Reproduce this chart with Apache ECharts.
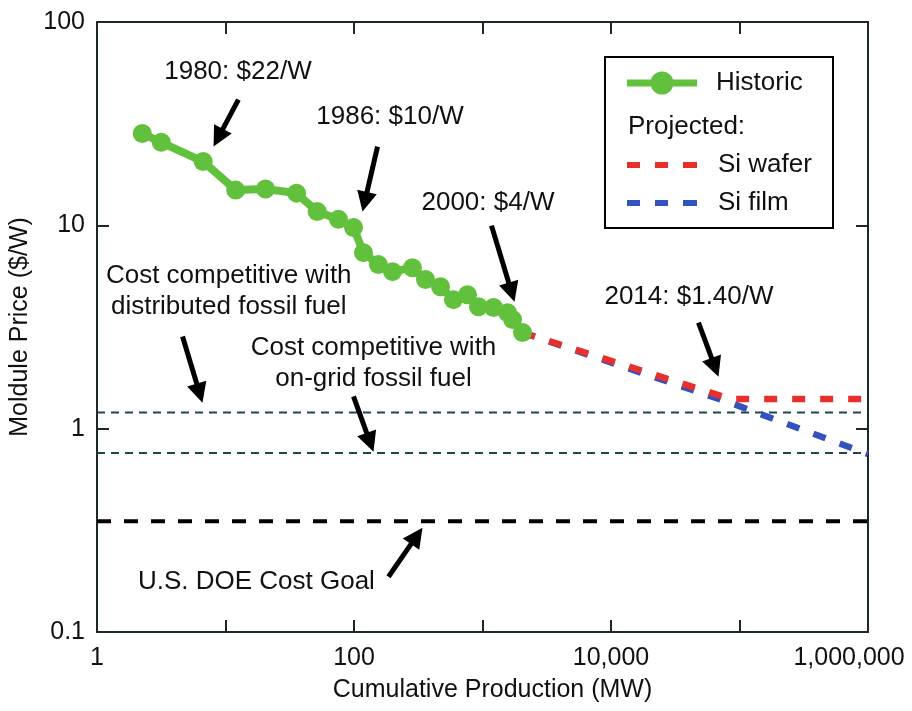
<!DOCTYPE html>
<html><head><meta charset="utf-8">
<script src="https://cdn.jsdelivr.net/npm/echarts/dist/echarts.min.js"></script>
<style>html,body{margin:0;padding:0;background:#fff}#c{width:912px;height:711px}</style>
</head><body><div id="c"></div>
<script>
// ---- data ----
const historicX = [2.25, 3.16, 6.7, 12.0, 20.5, 35.7, 51.7, 75.7, 99.1, 118.5, 155, 199.5, 285, 360, 471, 594, 764, 930, 1218, 1566, 1714, 2048];
const historicY = [28.3, 25.6, 20.6, 14.9, 15.1, 14.4, 11.7, 10.7, 9.75, 7.34, 6.41, 5.92, 6.19, 5.41, 4.99, 4.31, 4.56, 3.98, 3.94, 3.72, 3.44, 2.97];
const waferX = [2048, 85000, 1000000];
const waferY = [2.97, 1.4, 1.4];
const filmX = [2048, 85000, 1000000];
const filmY = [2.97, 1.34, 0.75];
const refRangeX = [1, 1000000];
const distributedLevel = 1.2;
const onGridLevel = 0.76;
const doeGoalLevel = 0.35;
// annotations: text anchor (data coords) and arrows (tail -> tip, data coords)
const annoTexts = [
  {text: '1980: $22/W', at: [12.5, 57.0]},
  {text: '1986: $10/W', at: [190.6, 34.3]},
  {text: '2000: $4/W', at: [1103, 12.9]},
  {text: '2014: $1.40/W', at: [40450, 4.46]},
  {text: 'Cost competitive with\ndistributed fossil fuel', at: [10.6, 4.72]},
  {text: 'Cost competitive with\non-grid fossil fuel', at: [141.8, 2.09]},
  {text: 'U.S. DOE Cost Goal', at: [17.4, 0.177]}
];
const annoArrows = [
  {from: [12.6, 41.5], to: [8.07, 24.4]},
  {from: [152.4, 24.4], to: [116.5, 11.7]},
  {from: [1175, 9.97], to: [1774, 4.21]},
  {from: [47960, 3.32], to: [68700, 1.80]},
  {from: [4.63, 2.84], to: [6.62, 1.34]},
  {from: [99.1, 1.44], to: [141.8, 0.77]},
  {from: [185.5, 0.187], to: [341, 0.326]}
];

const FONT = '"Liberation Sans", Arial, Helvetica, sans-serif';
const GREEN = '#62c13c', RED = '#e8302a', BLUE = '#3352bd', TEAL = '#1f4650', AX = '#1c2828';
const zip = (xs, ys) => xs.map((x, i) => [x, ys[i]]);
const flat = v => refRangeX.map(x => [x, v]);

function fmtX(v) {
  const e = Math.round(Math.log10(v));
  if (e % 2 !== 0) return '';
  const s = String(Math.round(v)).replace(/\B(?=(\d{3})+(?!\d))/g, ',');
  return e === 6 ? '{last|' + s + '}' : s;
}
function fmtY(v) { return v < 1 ? v.toFixed(1) : String(Math.round(v)); }

// legend icons (shape only; colour comes from the series)
const ICON_HISTORIC = 'path://M0,8h24v7h-24z M46,8h24v7h-24z M46.5,11.5A11.5,11.5 0 1 1 23.5,11.5A11.5,11.5 0 1 1 46.5,11.5Z';
const ICON_DASH = 'path://M0,0h13v6h-13z M28,0h13v6h-13z M56,0h14v6h-14z';

const chart = echarts.init(document.getElementById('c'), null, {renderer: 'canvas'});
const axisCommon = {
  type: 'log', logBase: 10,
  axisLine: {show: true, lineStyle: {color: AX, width: 2}},
  axisTick: {show: true, inside: true, length: 12, lineStyle: {color: AX, width: 2}},
  splitLine: {show: false}, minorTick: {show: false}
};
const legendText = {fontSize: 26, color: '#111', fontFamily: FONT};
chart.setOption({
  animation: false,
  backgroundColor: '#fff',
  textStyle: {fontFamily: FONT},
  grid: {left: 97, right: 44, top: 22, bottom: 79, containLabel: false, outerBoundsMode: 'none'},
  xAxis: [
    Object.assign({}, axisCommon, {
      position: 'bottom', min: 1, max: 1000000,
      name: 'Cumulative Production (MW)', nameLocation: 'middle', nameGap: 46,
      nameTextStyle: {fontSize: 25, color: '#111', fontFamily: FONT, padding: [0, 0, 0, 20]},
      axisLabel: {show: true, margin: 14, fontSize: 25, color: '#111', fontFamily: FONT, formatter: fmtX,
        rich: {last: {fontSize: 25, color: '#111', fontFamily: FONT, padding: [0, 38, 0, 0]}},
        showMinLabel: true, showMaxLabel: true, hideOverlap: false}
    }),
    Object.assign({}, axisCommon, {position: 'top', min: 1, max: 1000000, axisLabel: {show: false}})
  ],
  yAxis: [
    Object.assign({}, axisCommon, {
      position: 'left', min: 0.1, max: 100,
      name: 'Moldule Price ($/W)', nameLocation: 'middle', nameGap: 52,
      nameTextStyle: {fontSize: 25, color: '#111', fontFamily: FONT},
      axisLabel: {show: true, margin: 12, fontSize: 25, color: '#111', fontFamily: FONT, formatter: fmtY,
        showMinLabel: true, showMaxLabel: true, hideOverlap: false}
    }),
    Object.assign({}, axisCommon, {position: 'right', min: 0.1, max: 100, axisLabel: {show: false}})
  ],
  legend: [
    {data: [{name: 'Historic', icon: ICON_HISTORIC}], left: 627, top: 70, padding: 0, orient: 'vertical',
      itemWidth: 70, itemHeight: 26, selectedMode: false, z: 10, symbolKeepAspect: true,
      textStyle: Object.assign({padding: [0, 0, 0, 14]}, legendText)},
    {data: [{name: 'Si wafer', icon: ICON_DASH}, {name: 'Si film', icon: ICON_DASH}], left: 627, top: 152, padding: 0,
      orient: 'vertical', itemGap: 12, itemWidth: 70, itemHeight: 26, selectedMode: false, z: 10, symbolKeepAspect: true,
      textStyle: Object.assign({padding: [0, 0, 0, 16]}, legendText)}
  ],
  series: [
    {name: 'Distributed fossil fuel', type: 'line', data: flat(distributedLevel), symbol: 'none', silent: true, z: 1,
      lineStyle: {color: TEAL, width: 2, type: [8, 6]}},
    {name: 'On-grid fossil fuel', type: 'line', data: flat(onGridLevel), symbol: 'none', silent: true, z: 1,
      lineStyle: {color: TEAL, width: 2, type: [8, 6]}},
    {name: 'U.S. DOE Cost Goal', type: 'line', data: flat(doeGoalLevel), symbol: 'none', silent: true, z: 1,
      lineStyle: {color: '#000', width: 4, type: [14, 13]}},
    {name: 'Si film', type: 'line', data: zip(filmX, filmY), symbol: 'none', z: 2, color: BLUE,
      lineStyle: {color: BLUE, width: 6.5, type: [13, 15]}, itemStyle: {color: BLUE}},
    {name: 'Si wafer', type: 'line', data: zip(waferX, waferY), symbol: 'none', z: 3, color: RED,
      lineStyle: {color: RED, width: 6.5, type: [13, 15]}, itemStyle: {color: RED}},
    {name: 'Historic', type: 'line', data: zip(historicX, historicY), symbol: 'circle', symbolSize: 19, z: 4, color: GREEN,
      lineStyle: {color: GREEN, width: 8}, itemStyle: {color: GREEN}}
  ]
});

// ---- annotations placed through the axes ----
const toPx = p => chart.convertToPixel({xAxisIndex: 0, yAxisIndex: 0}, p);
const graphics = [];
graphics.push({type: 'rect', z: 5, shape: {x: 605, y: 57, width: 228, height: 171},
  style: {fill: '#fff', stroke: '#000', lineWidth: 2}});
graphics.push({type: 'text', z: 11, style: {text: 'Projected:', x: 628, y: 127, fill: '#111',
  font: '26px ' + FONT, align: 'left', verticalAlign: 'middle'}});
annoTexts.forEach(a => {
  const p = toPx(a.at);
  graphics.push({type: 'text', z: 20, style: {text: a.text, x: p[0], y: p[1], fill: '#111',
    font: '26px ' + FONT, align: 'center', verticalAlign: 'middle', lineHeight: 31}});
});
annoArrows.forEach(a => {
  const s = toPx(a.from), t = toPx(a.to);
  const dx = t[0] - s[0], dy = t[1] - s[1], L = Math.hypot(dx, dy);
  const ux = dx / L, uy = dy / L, hl = 20, hw = 10;
  const bx = t[0] - ux * hl, by = t[1] - uy * hl;
  graphics.push({type: 'line', z: 20, shape: {x1: s[0], y1: s[1], x2: bx + ux * 2, y2: by + uy * 2},
    style: {stroke: '#000', lineWidth: 5}});
  graphics.push({type: 'polygon', z: 20, shape: {points: [[t[0], t[1]], [bx - uy * hw, by + ux * hw], [bx + uy * hw, by - ux * hw]]},
    style: {fill: '#000'}});
});
chart.setOption({graphic: graphics});
</script></body></html>
